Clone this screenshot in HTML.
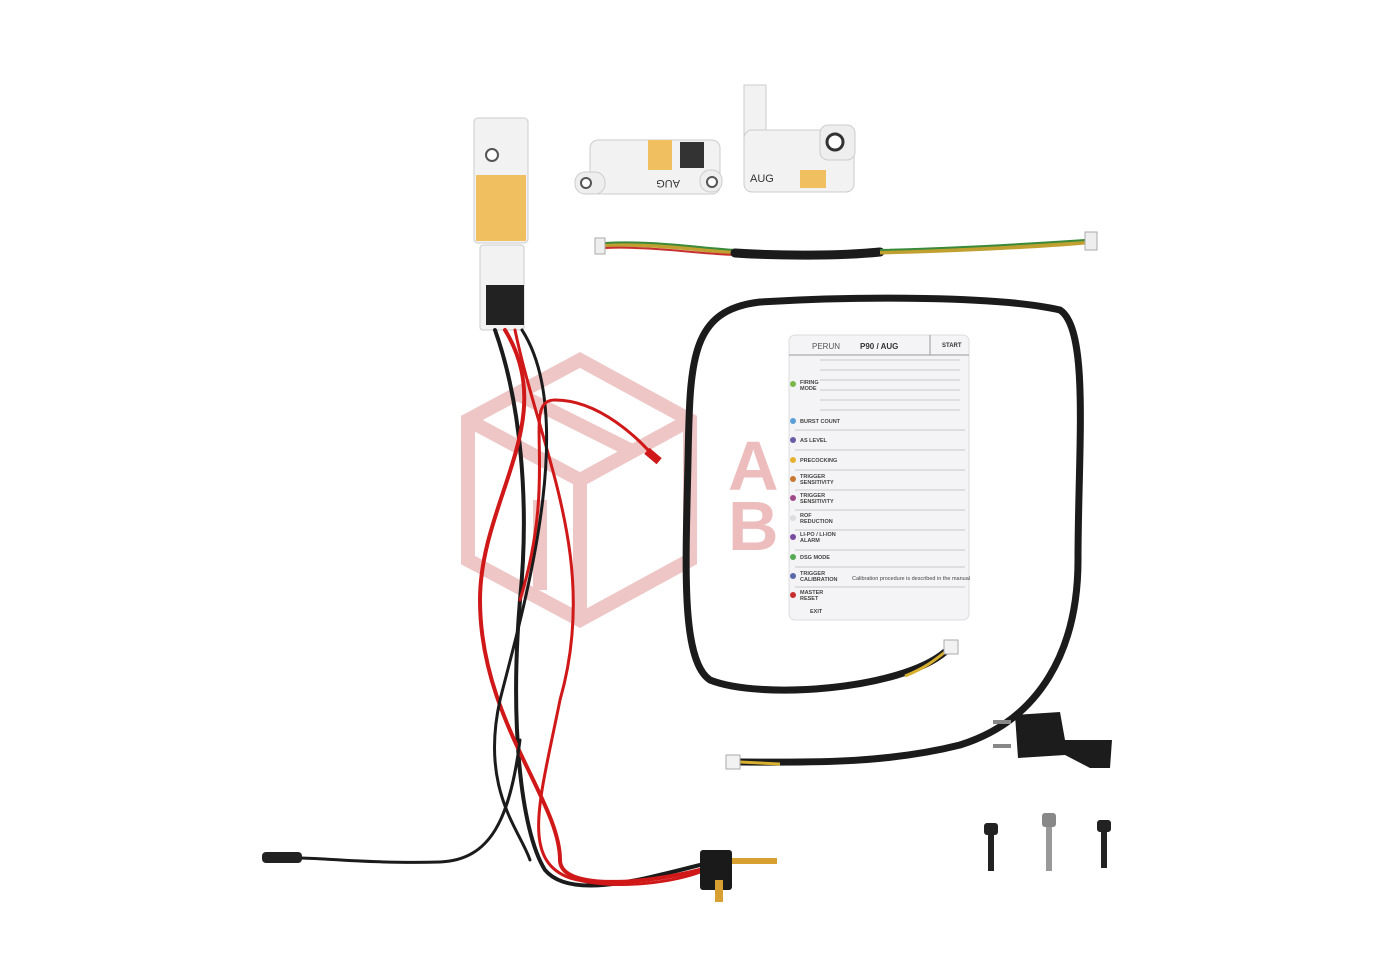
<!DOCTYPE html>
<html><head><meta charset="utf-8"><style>
html,body{margin:0;padding:0;background:#fff}
svg{display:block}
text{font-family:"Liberation Sans",sans-serif}
</style></head><body>
<svg width="1400" height="980" viewBox="0 0 1400 980" xmlns="http://www.w3.org/2000/svg">
<rect width="1400" height="980" fill="#fff"/>
<!-- watermark -->
<g fill="none" stroke="#e9b4b4" stroke-width="14" opacity="0.75">
<path d="M468 420 L580 360 L690 420 L690 560 L580 620 L468 560 Z"/>
<path d="M468 420 L580 480 L690 420 M580 480 L580 620"/>
<path d="M520 395 L630 450 M540 500 L540 590"/>
</g>
<g fill="#e7a8a8" opacity="0.75" font-weight="bold" font-size="70">
<text x="728" y="490">A</text><text x="800" y="490">R</text>
<text x="728" y="550">B</text><text x="800" y="550">O</text><text x="870" y="550">X</text>
</g>
<!-- instruction card -->
<rect x="789" y="335" width="180" height="285" rx="6" fill="#f4f4f6" stroke="#ddd"/>
<text x="812" y="349" font-size="8" fill="#555">PERUN</text>
<text x="860" y="349" font-size="8" font-weight="bold" fill="#333">P90 / AUG</text>
<text x="942" y="347" font-size="6" font-weight="bold" fill="#333">START</text>
<line x1="789" y1="355" x2="969" y2="355" stroke="#999"/>
<line x1="930" y1="335" x2="930" y2="355" stroke="#999"/>
<g font-size="5.5" font-weight="bold" fill="#444">
<text x="800" y="384">FIRING</text><text x="800" y="390">MODE</text>
<text x="800" y="423">BURST COUNT</text>
<text x="800" y="442">AS LEVEL</text>
<text x="800" y="462">PRECOCKING</text>
<text x="800" y="478">TRIGGER</text><text x="800" y="484">SENSITIVITY</text>
<text x="800" y="497">TRIGGER</text><text x="800" y="503">SENSITIVITY</text>
<text x="800" y="517">ROF</text><text x="800" y="523">REDUCTION</text>
<text x="800" y="536">LI-PO / LI-ION</text><text x="800" y="542">ALARM</text>
<text x="800" y="559">DSG MODE</text>
<text x="800" y="575">TRIGGER</text><text x="800" y="581">CALIBRATION</text>
<text x="800" y="594">MASTER</text><text x="800" y="600">RESET</text>
<text x="810" y="613">EXIT</text>
<text x="852" y="580" font-weight="normal">Calibration procedure is described in the manual</text>
</g>
<g stroke="#bbb" stroke-width="0.7">
<line x1="820" y1="360" x2="960" y2="360"/><line x1="820" y1="370" x2="960" y2="370"/>
<line x1="820" y1="380" x2="960" y2="380"/><line x1="820" y1="390" x2="960" y2="390"/>
<line x1="820" y1="400" x2="960" y2="400"/><line x1="820" y1="410" x2="960" y2="410"/>
<line x1="795" y1="430" x2="965" y2="430"/><line x1="795" y1="450" x2="965" y2="450"/>
<line x1="795" y1="470" x2="965" y2="470"/><line x1="795" y1="490" x2="965" y2="490"/>
<line x1="795" y1="510" x2="965" y2="510"/><line x1="795" y1="530" x2="965" y2="530"/>
<line x1="795" y1="550" x2="965" y2="550"/><line x1="795" y1="567" x2="965" y2="567"/>
<line x1="795" y1="587" x2="965" y2="587"/>
</g>
<g fill="#7ab648"><circle cx="793" cy="384" r="3"/></g>
<circle cx="793" cy="421" r="3" fill="#5aa0d8"/><circle cx="793" cy="440" r="3" fill="#6b5aa8"/>
<circle cx="793" cy="460" r="3" fill="#e8b030"/><circle cx="793" cy="479" r="3" fill="#c87830"/>
<circle cx="793" cy="498" r="3" fill="#a04a8a"/><circle cx="793" cy="518" r="3" fill="#ddd"/>
<circle cx="793" cy="537" r="3" fill="#7a4aa0"/><circle cx="793" cy="557" r="3" fill="#55aa55"/>
<circle cx="793" cy="576" r="3" fill="#5a6aa8"/><circle cx="793" cy="595" r="3" fill="#c83030"/>
<!-- big black loop cable -->
<path d="M945 652 C900 690 760 700 710 680 C680 660 686 560 688 460 C690 360 690 310 760 302 C860 296 1000 296 1060 310 C1090 330 1078 450 1078 560 C1078 650 1040 720 960 745 C880 765 800 762 740 762"
 fill="none" stroke="#1b1b1b" stroke-width="7" stroke-linecap="round"/>
<path d="M905 676 C925 668 935 660 945 652" stroke="#d8b030" stroke-width="3" fill="none"/>
<rect x="944" y="640" width="14" height="14" fill="#f2f2f2" stroke="#aaa"/>
<path d="M740 762 L780 764" stroke="#d8b030" stroke-width="3"/>
<rect x="726" y="755" width="14" height="14" fill="#f2f2f2" stroke="#aaa"/>
<!-- short cable -->
<path d="M605 245 C650 242 700 250 735 252" stroke="#c0a030" stroke-width="5" fill="none"/>
<path d="M605 243 C650 240 700 248 735 250" stroke="#3a8a3a" stroke-width="2" fill="none"/>
<path d="M605 248 C650 246 700 254 735 255" stroke="#c83030" stroke-width="2" fill="none"/>
<path d="M735 253 C780 256 840 256 880 252" stroke="#1b1b1b" stroke-width="9" stroke-linecap="round"/>
<path d="M880 252 C960 250 1040 246 1085 242" stroke="#c0a030" stroke-width="5" fill="none"/>
<path d="M880 250 C960 248 1040 243 1085 240" stroke="#3a8a3a" stroke-width="2" fill="none"/>
<rect x="595" y="238" width="10" height="16" fill="#eee" stroke="#aaa"/>
<rect x="1085" y="232" width="12" height="18" fill="#eee" stroke="#aaa"/>
<!-- main board -->
<rect x="474" y="118" width="54" height="125" rx="4" fill="#f2f2f2" stroke="#ccc"/>
<rect x="476" y="175" width="50" height="66" fill="#f0c060"/>
<rect x="480" y="245" width="44" height="85" rx="3" fill="#f2f2f2" stroke="#ccc"/>
<rect x="486" y="285" width="38" height="40" fill="#222"/>
<circle cx="492" cy="155" r="6" fill="#fff" stroke="#555" stroke-width="2"/>
<!-- red/black wires -->
<g fill="none" stroke-linecap="round">
<path d="M495 330 C520 400 530 500 520 600 C510 720 520 830 545 870 C570 900 640 880 700 865" stroke="#1b1b1b" stroke-width="4"/>
<path d="M505 330 C560 420 480 500 480 600 C480 720 560 800 560 860 C560 890 640 885 700 870" stroke="#d01818" stroke-width="4"/>
<path d="M515 330 C540 450 600 560 560 700 C540 800 520 860 570 878 C620 892 680 880 700 872" stroke="#d01818" stroke-width="3"/>
<path d="M522 330 C580 420 520 620 500 700 C480 790 520 830 530 860" stroke="#1b1b1b" stroke-width="3"/>
<path d="M520 600 C560 470 520 400 555 400 C600 400 640 440 655 458" stroke="#d01818" stroke-width="3"/>
<path d="M520 740 C510 820 490 860 440 862 C380 864 320 858 300 858" stroke="#1b1b1b" stroke-width="3"/>
</g>
<rect x="262" y="852" width="40" height="11" rx="4" fill="#222"/>
<rect x="645" y="452" width="16" height="8" fill="#d01818" transform="rotate(40 653 456)"/>
<rect x="700" y="850" width="32" height="40" rx="3" fill="#1a1a1a"/>
<rect x="732" y="858" width="45" height="6" fill="#d8a030"/>
<rect x="715" y="880" width="8" height="22" fill="#d8a030"/>
<!-- control board -->
<rect x="590" y="140" width="130" height="54" rx="8" fill="#f2f2f2" stroke="#ccc"/>
<rect x="575" y="172" width="30" height="22" rx="10" fill="#eee" stroke="#ccc"/>
<rect x="700" y="170" width="22" height="22" rx="10" fill="#eee" stroke="#ccc"/>
<circle cx="586" cy="183" r="5" fill="#fff" stroke="#555" stroke-width="2"/>
<circle cx="712" cy="182" r="5" fill="#fff" stroke="#555" stroke-width="2"/>
<rect x="648" y="140" width="24" height="30" fill="#f0c060"/>
<rect x="680" y="142" width="24" height="26" fill="#333"/>
<text x="640" y="190" font-size="11" fill="#333" transform="rotate(180 660 185)">AUG</text>
<!-- trigger board -->
<rect x="744" y="85" width="22" height="60" fill="#f2f2f2" stroke="#ccc"/>
<rect x="744" y="130" width="110" height="62" rx="8" fill="#f2f2f2" stroke="#ccc"/>
<rect x="820" y="125" width="35" height="35" rx="8" fill="#eee" stroke="#ccc"/>
<circle cx="835" cy="142" r="8" fill="#fff" stroke="#333" stroke-width="3"/>
<rect x="800" y="170" width="26" height="18" fill="#f0c060"/>
<text x="750" y="182" font-size="11" fill="#333">AUG</text>
<!-- switch part -->
<path d="M1015 715 L1060 712 L1065 740 L1090 740 L1112 740 L1110 768 L1090 768 L1065 755 L1018 758 Z" fill="#1c1c1c"/>
<rect x="993" y="720" width="18" height="4" fill="#888"/><rect x="993" y="744" width="18" height="4" fill="#888"/>
<!-- screws -->
<rect x="984" y="823" width="14" height="12" rx="3" fill="#222"/><rect x="988" y="835" width="6" height="36" fill="#222"/>
<rect x="1042" y="813" width="14" height="14" rx="3" fill="#888"/><rect x="1046" y="827" width="6" height="44" fill="#999"/>
<rect x="1097" y="820" width="14" height="12" rx="3" fill="#222"/><rect x="1101" y="832" width="6" height="36" fill="#222"/>
</svg>
</body></html>
